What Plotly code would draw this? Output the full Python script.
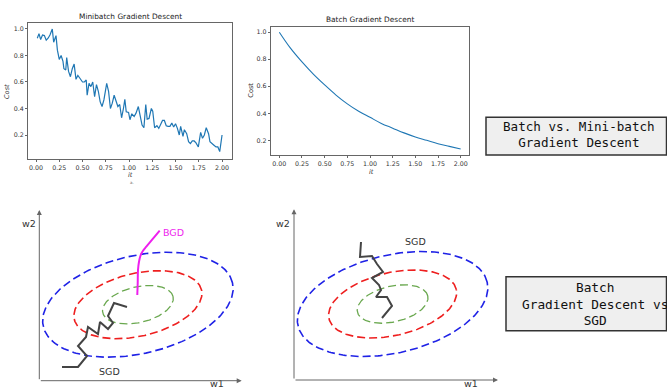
import numpy as np
import plotly.graph_objects as go

W, H = 667, 391

# ---------------- data: minibatch gradient descent (top-left) ----------------
mb_it = [0.014, 0.032, 0.05, 0.07, 0.09, 0.11, 0.13, 0.15, 0.175, 0.19, 0.215, 0.23, 0.25, 0.27,
         0.29, 0.30, 0.32, 0.33, 0.35, 0.37, 0.39, 0.41, 0.43, 0.45, 0.47, 0.50, 0.52, 0.54,
         0.55, 0.57, 0.59, 0.61, 0.63, 0.65, 0.67, 0.69, 0.71, 0.73, 0.76, 0.78, 0.80, 0.82,
         0.84, 0.86, 0.88, 0.90, 0.92, 0.94, 0.955, 0.97, 0.995, 1.01, 1.03, 1.055, 1.075,
         1.10, 1.12, 1.14, 1.16, 1.18, 1.195, 1.215, 1.24, 1.255, 1.275, 1.30, 1.32, 1.34,
         1.36, 1.38, 1.40, 1.42, 1.44, 1.46, 1.48, 1.50, 1.52, 1.54, 1.555, 1.58, 1.595,
         1.62, 1.64, 1.66, 1.68, 1.70, 1.72, 1.745, 1.77, 1.79, 1.81, 1.83, 1.855, 1.87,
         1.89, 1.91, 1.935, 1.955, 1.975, 2.00]
mb_cost = [0.93, 0.965, 0.92, 0.955, 0.95, 0.915, 0.93, 0.955, 1.0, 0.90, 0.95, 0.84, 0.77, 0.80,
           0.755, 0.70, 0.69, 0.785, 0.68, 0.64, 0.70, 0.735, 0.62, 0.65, 0.63, 0.60, 0.60, 0.615,
           0.50, 0.59, 0.565, 0.60, 0.49, 0.58, 0.53, 0.45, 0.415, 0.465, 0.59, 0.53, 0.40, 0.44,
           0.50, 0.465, 0.415, 0.43, 0.33, 0.40, 0.47, 0.375, 0.37, 0.315, 0.36, 0.34, 0.365,
           0.415, 0.34, 0.275, 0.255, 0.43, 0.32, 0.325, 0.40, 0.38, 0.255, 0.27, 0.25, 0.275,
           0.31, 0.31, 0.27, 0.265, 0.265, 0.29, 0.26, 0.285, 0.25, 0.20, 0.265, 0.19, 0.24,
           0.21, 0.15, 0.135, 0.155, 0.155, 0.14, 0.11, 0.22, 0.175, 0.20, 0.255, 0.21, 0.15,
           0.14, 0.125, 0.11, 0.11, 0.075, 0.20]

# ---------------- data: batch gradient descent (top-right) ----------------
bgd_it = [0.0, 0.125, 0.25, 0.375, 0.5, 0.625, 0.75, 0.875, 1.0, 1.125, 1.25, 1.375, 1.5,
          1.625, 1.75, 1.875, 2.0]
bgd_cost = [1.0, 0.88, 0.78, 0.69, 0.61, 0.535, 0.47, 0.415, 0.37, 0.325, 0.29, 0.255, 0.225,
            0.2, 0.175, 0.155, 0.135]

tick_vals_x = [0.0, 0.25, 0.5, 0.75, 1.0, 1.25, 1.5, 1.75, 2.0]
tick_text_x = ["0.00", "0.25", "0.50", "0.75", "1.00", "1.25", "1.50", "1.75", "2.00"]
tick_vals_y = [0.2, 0.4, 0.6, 0.8, 1.0]
tick_text_y = ["0.2", "0.4", "0.6", "0.8", "1.0"]

# ---------------- data: contour diagrams (bottom), in pixel-like units from origin ----------------
ell_center = (98.6, 76.0)
ell_semi_major = [97.1, 65.3, 36.1]
ell_semi_minor = [49.0, 31.5, 17.9]
ell_angle_deg = 13
ell_colors = ["#1f22e6", "#ee1f1f", "#6aa84f"]

# left diagram paths (pixel coords in image, converted below)
sgd_left_px = [62, 78, 87, 78, 86, 88, 98, 100, 108, 113, 108, 114, 127]
sgd_left_py = [367, 367, 356, 346, 337, 327, 334, 322, 329, 323, 316, 303, 307]
bgd_left_px = [137.3, 137.7, 138.0, 139.0, 140.7, 143.0, 146.3, 151.3, 159.7]
bgd_left_py = [295, 283.3, 270, 261.7, 255, 250.7, 246.7, 240.7, 230.7]
# right diagram SGD path
sgd_right_px = [361, 360, 372, 377, 383, 372, 379, 381, 376, 387, 392, 382]
sgd_right_py = [242, 257, 256, 264, 272, 278, 285, 290, 297, 297, 306, 318]

origin_left = (39.3, 380.7)
origin_right = (294.0, 380.0)


def px(x):
    return x / W


def py(y):
    return 1 - y / H


fig = go.Figure()

# --- top-left line
fig.add_trace(go.Scatter(x=mb_it, y=mb_cost, mode="lines", line=dict(color="#1f77b4", width=1.2),
                         xaxis="x", yaxis="y", showlegend=False))
# --- top-right line
fig.add_trace(go.Scatter(x=bgd_it, y=bgd_cost, mode="lines", line=dict(color="#1f77b4", width=1.1, shape="spline"),
                         xaxis="x2", yaxis="y2", showlegend=False))

# --- ellipses
t = np.linspace(0, 2 * np.pi, 240)
th = np.deg2rad(ell_angle_deg)
for (xa, ya) in (("x3", "y3"), ("x4", "y4")):
    for a, b, c in zip(ell_semi_major, ell_semi_minor, ell_colors):
        ex = ell_center[0] + a * np.cos(t) * np.cos(th) - b * np.sin(t) * np.sin(th)
        ey = ell_center[1] + a * np.cos(t) * np.sin(th) + b * np.sin(t) * np.cos(th)
        fig.add_trace(go.Scatter(x=ex, y=ey, mode="lines",
                                 line=dict(color=c, width=1.6 if c != ell_colors[2] else 1.3, dash="8px,4px"),
                                 xaxis=xa, yaxis=ya, showlegend=False, hoverinfo="skip"))

# --- paths
def rel(xs, ys, org):
    return [x - org[0] for x in xs], [org[1] - y for y in ys]

sx, sy = rel(sgd_left_px, sgd_left_py, origin_left)
fig.add_trace(go.Scatter(x=sx, y=sy, mode="lines", line=dict(color="#444444", width=2),
                         xaxis="x3", yaxis="y3", showlegend=False))
bx, by = rel(bgd_left_px, bgd_left_py, origin_left)
fig.add_trace(go.Scatter(x=bx, y=by, mode="lines", line=dict(color="#ee1fee", width=2, shape="spline"),
                         xaxis="x3", yaxis="y3", showlegend=False))
rx, ry = rel(sgd_right_px, sgd_right_py, origin_right)
fig.add_trace(go.Scatter(x=rx, y=ry, mode="lines", line=dict(color="#444444", width=2),
                         xaxis="x4", yaxis="y4", showlegend=False))

tickfont = dict(family="DejaVu Sans", size=6.3, color="#333333")
spine = dict(showline=True, mirror=True, linecolor="#666666", linewidth=1, ticks="outside",
             ticklen=2, tickcolor="#666666", showgrid=False, zeroline=False, tickfont=tickfont,
             tickangle=0)

layout = dict(
    width=W, height=H, margin=dict(l=0, r=0, t=0, b=0),
    paper_bgcolor="white", plot_bgcolor="white", showlegend=False,
    xaxis=dict(domain=[px(28), px(232)], range=[-0.086, 2.107], tickvals=tick_vals_x,
               ticktext=tick_text_x, anchor="y", **spine),
    yaxis=dict(domain=[py(159), py(23)], range=[0.019, 1.045], tickvals=tick_vals_y,
               ticktext=tick_text_y, anchor="x", **spine),
    xaxis2=dict(domain=[px(270.7), px(469.3)], range=[-0.095, 2.095], tickvals=tick_vals_x,
                ticktext=tick_text_x, anchor="y2", **spine),
    yaxis2=dict(domain=[py(155.3), py(26.7)], range=[0.089, 1.041], tickvals=tick_vals_y,
                ticktext=tick_text_y, anchor="x2", **spine),
    xaxis3=dict(domain=[px(origin_left[0]), px(origin_left[0] + 210)], range=[0, 210],
                visible=False, anchor="y3"),
    yaxis3=dict(domain=[py(origin_left[1]), py(origin_left[1] - 180)], range=[0, 180],
                visible=False, anchor="x3"),
    xaxis4=dict(domain=[px(origin_right[0]), px(origin_right[0] + 210)], range=[0, 210],
                visible=False, anchor="y4"),
    yaxis4=dict(domain=[py(origin_right[1]), py(origin_right[1] - 180)], range=[0, 180],
                visible=False, anchor="x4"),
)
fig.update_layout(**layout)

ann = []

def txt(x, y, s, size=7.3, color="#222222", family="DejaVu Sans", angle=0, xanchor="center"):
    ann.append(dict(x=px(x), y=py(y), xref="paper", yref="paper", text=s, showarrow=False,
                    font=dict(family=family, size=size, color=color), textangle=angle,
                    xanchor=xanchor, yanchor="middle"))

# titles and axis labels of the top plots
txt(130, 16.5, "Minibatch Gradient Descent", size=7.4)
txt(369.7, 20, "Batch Gradient Descent", size=7.4)
txt(7, 92, "<i>Cost</i>", size=6.6, color="#333333", angle=-90)
txt(250.7, 90, "Cost", size=6.6, color="#333333", angle=-90)
txt(130, 175, "<i>it</i>", size=6.6, color="#333333")
txt(132, 183, "a.", size=4, color="#666666")
txt(371.7, 172, "<i>it</i>", size=6.6, color="#333333")

# diagram labels
dfont = "DejaVu Sans"
txt(28.5, 223.3, "w2", size=9.5, color="#333333", family=dfont)
txt(217.2, 383.3, "w1", size=9.5, color="#333333", family=dfont)
txt(283.2, 223.3, "w2", size=9.5, color="#333333", family=dfont)
txt(470.8, 383.3, "w1", size=9.5, color="#333333", family=dfont)
txt(173, 232.7, "BGD", size=9.5, color="#ee1fee", family=dfont)
txt(109.7, 371.7, "SGD", size=9.5, color="#333333", family=dfont)
txt(415.5, 241.7, "SGD", size=9.5, color="#333333", family=dfont)

# axis arrows of the diagrams
for xa, ya, xe, ye in (("x3", "y3", 202.4, 170.7), ("x4", "y4", 204.0, 170.7)):
    ann.append(dict(x=xe, y=0, ax=0, ay=0, xref=xa, yref=ya, axref=xa, ayref=ya, text="",
                    showarrow=True, arrowhead=2, arrowsize=1, arrowwidth=1, arrowcolor="#666666"))
    ann.append(dict(x=0, y=ye, ax=0, ay=0, xref=xa, yref=ya, axref=xa, ayref=ya, text="",
                    showarrow=True, arrowhead=2, arrowsize=1, arrowwidth=1, arrowcolor="#666666"))

# boxes on right
mono = "DejaVu Sans Mono"
txt(578.7, 134.5, "Batch vs. Mini-batch<br>Gradient Descent", size=12.6, color="#111111", family=mono)
txt(595.3, 303.5, "Batch<br>Gradient Descent vs<br>SGD", size=12.8, color="#111111", family=mono)

fig.update_layout(annotations=ann, shapes=[
    dict(type="rect", xref="paper", yref="paper", x0=px(486), x1=px(666.5), y0=py(155), y1=py(117.3),
         fillcolor="#efefef", line=dict(color="#333333", width=1.5), layer="below"),
    dict(type="rect", xref="paper", yref="paper", x0=px(506), x1=px(666.5), y0=py(330.7), y1=py(276.7),
         fillcolor="#efefef", line=dict(color="#333333", width=1.5), layer="below"),
])

fig.write_html("out.html", config={"displayModeBar": False},
               post_script="document.body.style.margin='0px';")
